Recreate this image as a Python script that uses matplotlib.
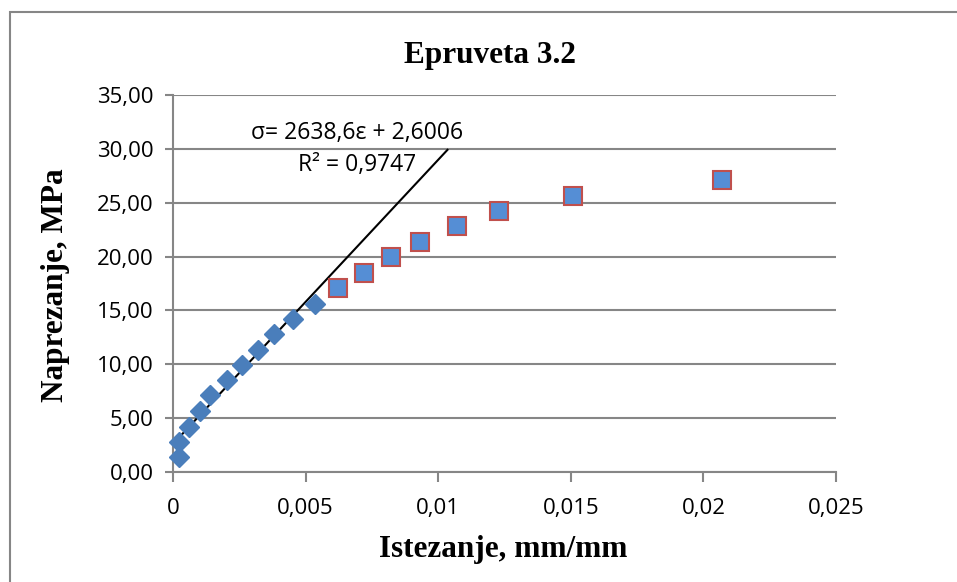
import matplotlib.pyplot as plt
from matplotlib.patches import Rectangle
from matplotlib.ticker import FuncFormatter
import numpy as np

# elastic part (diamonds) and plastic part (squares)
strain_lin = [0.000226, 0.000226, 0.000615, 0.00102, 0.00139, 0.00202,
              0.00259, 0.00322, 0.00382, 0.00454, 0.00535]
stress_lin = [1.42, 2.76, 4.21, 5.66, 7.15, 8.54, 9.94, 11.33, 12.81, 14.20, 15.57]

strain_pl = [0.00621, 0.00721, 0.00822, 0.00931, 0.01071, 0.0123, 0.0151, 0.0207]
stress_pl = [17.11, 18.50, 19.93, 21.38, 22.81, 24.23, 25.66, 27.08]

slope = 2638.6
intercept = 2.6006
r2 = 0.9747
forward = 0.005

xticks = [0, 0.005, 0.01, 0.015, 0.02, 0.025]
xticklabels = ['0', '0,005', '0,01', '0,015', '0,02', '0,025']
yticks = [0, 5, 10, 15, 20, 25, 30, 35]

grid_c = '#868686'
tick_font = 'Open Sans'
serif = 'Liberation Serif'

fig = plt.figure(figsize=(9.57, 5.82), dpi=100)
ax = fig.add_axes([173/957, 1-472/582, (836-173)/957, (472-95)/582])

ax.set_xlim(0, 0.025)
ax.set_ylim(0, 35)
ax.set_yticks(yticks)
ax.yaxis.set_major_formatter(FuncFormatter(lambda v, p: f'{v:.2f}'.replace('.', ',')))
ax.set_xticks(xticks)
ax.set_xticklabels(xticklabels)

ax.grid(axis='y', color=grid_c, lw=1.5)
ax.set_axisbelow(True)
for s in ['top', 'right']:
    ax.spines[s].set_visible(False)
for s in ['left', 'bottom']:
    ax.spines[s].set_color(grid_c)
    ax.spines[s].set_linewidth(1.5)
ax.tick_params(axis='both', colors=grid_c, width=1.5, labelcolor='black',
               labelsize=16)
ax.tick_params(axis='y', length=6, pad=8)
ax.tick_params(axis='x', length=7, pad=12)
for lab in ax.get_xticklabels() + ax.get_yticklabels():
    lab.set_fontfamily(tick_font)

# trend line on the linear part
tx = np.array([strain_lin[0], strain_lin[-1] + forward])
ax.plot(tx, slope * tx + intercept, color='black', lw=1.5, zorder=2)

ax.plot(strain_lin, stress_lin, 'D', ms=10, color='#4a7ebb', mec='#4a7ebb',
        zorder=3, clip_on=False)
ax.plot(strain_pl, stress_pl, 's', ms=13, mfc='#558ed5', mec='#c0504d',
        mew=1.5, zorder=3)

ax.text(0.00694, 31.5, 'σ= 2638,6ε + 2,6006', ha='center', va='center',
        fontsize=16.5, fontfamily=tick_font)
ax.text(0.00694, 28.5, 'R² = ' + f'{r2:.4f}'.replace('.', ','), ha='center',
        va='center', fontsize=16.5, fontfamily=tick_font)

fig.text(490/957, 1-55/582, 'Epruveta 3.2', ha='center', va='center',
         fontsize=22.5, fontweight='bold', fontfamily=serif)
fig.text(503/957, 1-550/582, 'Istezanje, mm/mm', ha='center', va='center',
         fontsize=22.5, fontweight='bold', fontfamily=serif)
fig.text(55/957, 1-285/582, 'Naprezanje, MPa', ha='center', va='center',
         rotation=90, fontsize=22.5, fontweight='bold', fontfamily=serif)

fig.add_artist(Rectangle((10/957, -0.1), 1.2, 1-12/582+0.1,
                         transform=fig.transFigure, fill=False,
                         edgecolor=grid_c, lw=1.5))

fig.savefig('out.png', dpi=100)
